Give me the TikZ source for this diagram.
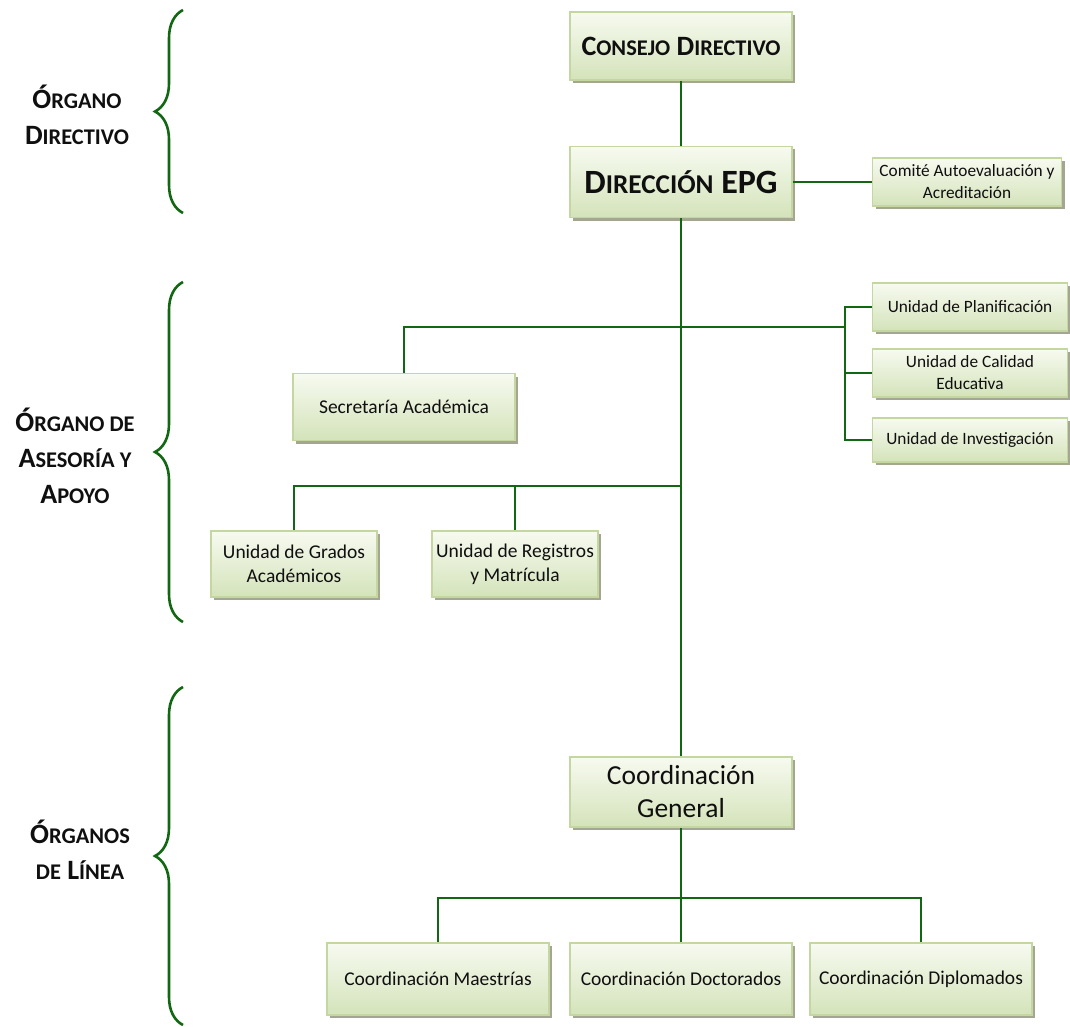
\documentclass[tikz,border=0pt]{standalone}
\usepackage{fontspec}
\setmainfont{Carlito}
\usepackage{graphicx}
\usetikzlibrary{positioning}
\usetikzlibrary{shadows}
\usetikzlibrary{decorations.pathreplacing}

\definecolor{linegreen}{RGB}{18,104,18}
\definecolor{boxedge}{RGB}{196,215,160}
\definecolor{boxtop}{RGB}{247,250,240}
\definecolor{boxbottom}{RGB}{212,227,186}
\definecolor{boxshadow}{RGB}{164,166,146}
\definecolor{textblack}{RGB}{15,15,15}

\newcommand{\smcap}[2]{#1\scalebox{0.8}{#2}}

\tikzset{
  orgbox/.style = {draw = boxedge, line width = 1.6pt, top color = boxtop, bottom color = boxbottom,
                   drop shadow = {shadow xshift = 3pt, shadow yshift = -3pt, fill = boxshadow, opacity = 1},
                   align = center, inner sep = 0pt, text = textblack},
  bigbox/.style = {orgbox, minimum width = 222pt, font = \fontsize{19.5}{24}\selectfont},
  smallbox/.style = {orgbox, minimum width = 195pt, minimum height = 48pt, font = \fontsize{17.3}{22}\selectfont},
  midbox/.style = {orgbox, minimum width = 166pt, minimum height = 66pt, font = \fontsize{19.5}{24}\selectfont},
  link/.style = {linegreen, line width = 2pt},
  groupbrace/.style = {linegreen, line width = 2.6pt, decorate, decoration = {brace, amplitude = 28pt}},
  grouplabel/.style = {align = center, text = textblack, font = \bfseries\fontsize{28}{36}\selectfont}
}

\begin{document}
\begin{tikzpicture}[x = 1pt, y = -1pt]
\useasboundingbox (0, 0) rectangle (1070, 1027);

% upper level
\node [bigbox, minimum height = 68pt, font = \bfseries\fontsize{28}{30}\selectfont] (consejo) at (681, 46) {\smcap{C}{ONSEJO} \smcap{D}{IRECTIVO}};
\node [bigbox, minimum height = 71pt, font = \bfseries\fontsize{34}{38}\selectfont] (direccion) at (681, 182) {\smcap{D}{IRECCIÓN} EPG};
\node [smallbox, minimum width = 189pt] (comite) at (967, 182) {Comité Autoevaluación y\\Acreditación};

% advisory level
\node [smallbox] (planif) at (970, 307) {Unidad de Planificación};
\node [smallbox] (calidad) at (970, 373) {Unidad de Calidad\\Educativa};
\node [smallbox, minimum height = 44pt] (investig) at (970, 440) {Unidad de Investigación};
\node [bigbox, minimum height = 67pt] (secretaria) at (404, 407) {Secretaría Académica};
\node [midbox] (grados) at (294, 564) {Unidad de Grados\\Académicos};
\node [midbox] (registros) at (515, 564) {Unidad de Registros\\y Matrícula};

% line level
\node [bigbox, minimum height = 70pt, font = \fontsize{27.5}{33}\selectfont] (coordgen) at (681, 792) {Coordinación\\General};
\node [bigbox, minimum height = 72pt] (maestrias) at (438, 979) {Coordinación Maestrías};
\node [bigbox, minimum height = 72pt] (doctorados) at (681, 979) {Coordinación Doctorados};
\node [bigbox, minimum height = 72pt] (diplomados) at (921, 979) {Coordinación Diplomados};

% junctions
\coordinate (rbar) at (845, 327);
\coordinate (lbar) at (681, 486);
\coordinate (bbar) at (681, 898);

% connectors
\draw [link] (consejo) -- (direccion);
\draw [link] (direccion) -- (comite);
\draw [link] (direccion) -- (coordgen);
\draw [link] (secretaria) |- (rbar);
\draw [link] (planif.west) -| (rbar) |- (investig.west);
\draw [link] (calidad.west) -- (calidad.west -| rbar);
\draw [link] (grados) |- (lbar);
\draw [link] (registros) -- (registros |- lbar);
\draw [link] (coordgen) -- (doctorados);
\draw [link] (maestrias) |- (diplomados |- bbar) -- (diplomados);

% groups
\draw [groupbrace] (183, 213) -- (183, 10);
\draw [groupbrace] (183, 622) -- (183, 282);
\draw [groupbrace] (183, 1025) -- (183, 687);
\node [grouplabel] (lbldirectivo) at (77, 115) {\smcap{Ó}{RGANO}\\\smcap{D}{IRECTIVO}};
\node [grouplabel] (lblasesoria) at (75, 456) {\smcap{Ó}{RGANO DE}\\\smcap{A}{SESORÍA Y}\\\smcap{A}{POYO}};
\node [grouplabel] (lbllinea) at (80, 850) {\smcap{Ó}{RGANOS}\\\scalebox{0.8}{DE} \smcap{L}{ÍNEA}};
\end{tikzpicture}
\end{document}
